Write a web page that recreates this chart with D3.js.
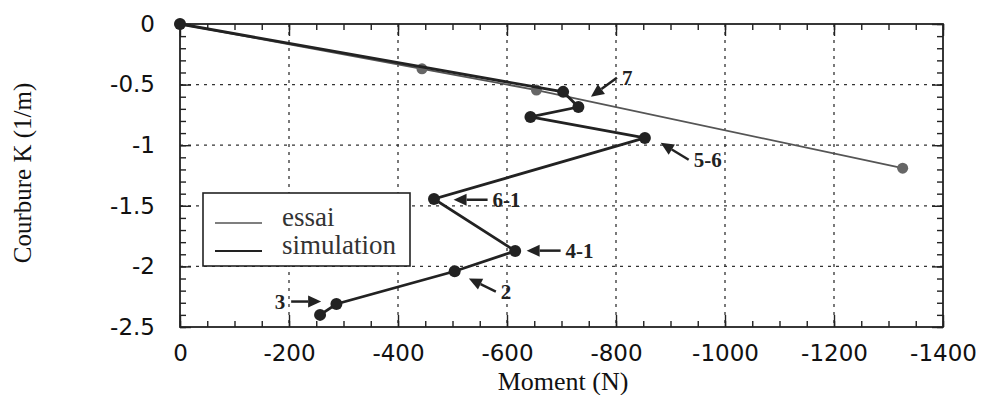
<!DOCTYPE html>
<meta charset="utf-8">
<script src="https://d3js.org/d3.v7.min.js"></script>
<style>
  body { margin: 0; background: #fff; }
</style>
<div id="chart"></div>
<script>
// data
var essaiM = [0, -444, -654, -1326];
var essaiK = [0, -0.37, -0.545, -1.19];
var simM = [0, -703, -731, -643, -853, -466, -615, -504, -287, -257];
var simK = [0, -0.56, -0.685, -0.767, -0.94, -1.444, -1.873, -2.04, -2.31, -2.40];

// annotations: label and arrow head (data coords), tail offset in px
var annLabels = ["7", "5-6", "6-1", "4-1", "2", "3"];
var annM = [-754, -882, -502, -636, -530, -259];
var annK = [-0.60, -0.98, -1.45, -1.87, -2.10, -2.29];
var annDx = [26, 28, 34, 34, 27, -30];
var annDy = [-19, 17, 0, 0, 13, 0];

var xTicks = [0, -200, -400, -600, -800, -1000, -1200, -1400];
var yTicks = [0, -0.5, -1, -1.5, -2, -2.5];
var legendLabels = ["essai", "simulation"];

var W = 981, H = 395;
var margin = {top: 24, right: 38, bottom: 68, left: 180};
var serif = "'Liberation Serif', 'Times New Roman', serif";

var svg = d3.select("#chart").append("svg")
  .attr("width", W).attr("height", H);

var x = d3.scaleLinear().domain([0, -1400]).range([margin.left, W - margin.right]);
var y = d3.scaleLinear().domain([0, -2.5]).range([margin.top, H - margin.bottom]);

var fmt = function(d) { return String(d); };

// grid
var grid = svg.append("g")
  .attr("stroke", "#333").attr("stroke-width", 1.3).attr("stroke-dasharray", "3,5");
grid.selectAll(".gx").data(xTicks.slice(1, -1)).enter().append("line")
  .attr("x1", d => x(d)).attr("x2", d => x(d))
  .attr("y1", y(0)).attr("y2", y(-2.5));
grid.selectAll(".gy").data(yTicks.slice(1, -1)).enter().append("line")
  .attr("x1", x(0)).attr("x2", x(-1400))
  .attr("y1", d => y(d)).attr("y2", d => y(d));

// axes
var xMinor = d3.range(0, -1401, -50);
var yMinor = d3.range(0, 26).map(i => -i / 10);

function styleAxis(g) {
  g.select(".domain").remove();
  g.selectAll("line").attr("stroke", "#222").attr("stroke-width", 1.4);
  g.selectAll("text")
    .style("font-family", "'DejaVu Sans', sans-serif")
    .style("font-size", "23px").attr("fill", "#111");
}

svg.append("g").attr("transform", "translate(0," + y(-2.5) + ")")
  .call(d3.axisBottom(x).tickValues(xMinor).tickSizeInner(-6).tickSizeOuter(0).tickFormat(""))
  .call(styleAxis);
svg.append("g").attr("transform", "translate(0," + y(0) + ")")
  .call(d3.axisTop(x).tickValues(xMinor).tickSizeInner(-6).tickSizeOuter(0).tickFormat(""))
  .call(styleAxis);
svg.append("g").attr("transform", "translate(" + x(0) + ",0)")
  .call(d3.axisLeft(y).tickValues(yMinor).tickSizeInner(-6).tickSizeOuter(0).tickFormat(""))
  .call(styleAxis);
svg.append("g").attr("transform", "translate(" + x(-1400) + ",0)")
  .call(d3.axisRight(y).tickValues(yMinor).tickSizeInner(-6).tickSizeOuter(0).tickFormat(""))
  .call(styleAxis);

svg.append("g").attr("transform", "translate(0," + y(-2.5) + ")")
  .call(d3.axisBottom(x).tickValues(xTicks).tickSizeInner(-12).tickSizeOuter(0).tickPadding(18).tickFormat(fmt))
  .call(styleAxis);
svg.append("g").attr("transform", "translate(0," + y(0) + ")")
  .call(d3.axisTop(x).tickValues(xTicks).tickSizeInner(-12).tickSizeOuter(0).tickFormat(""))
  .call(styleAxis);
svg.append("g").attr("transform", "translate(" + x(0) + ",0)")
  .call(d3.axisLeft(y).tickValues(yTicks).tickSizeInner(-11).tickSizeOuter(0).tickPadding(25).tickFormat(fmt))
  .call(styleAxis);
svg.append("g").attr("transform", "translate(" + x(-1400) + ",0)")
  .call(d3.axisRight(y).tickValues(yTicks).tickSizeInner(-11).tickSizeOuter(0).tickFormat(""))
  .call(styleAxis);

// frame
svg.append("rect")
  .attr("x", x(0)).attr("y", y(0))
  .attr("width", x(-1400) - x(0)).attr("height", y(-2.5) - y(0))
  .attr("fill", "none").attr("stroke", "#222").attr("stroke-width", 1.8);

// axis titles
svg.append("text")
  .attr("x", 563).attr("y", 390)
  .attr("text-anchor", "middle")
  .style("font-family", serif).style("font-size", "26px")
  .attr("fill", "#111")
  .text("Moment (N)");
svg.append("text")
  .attr("transform", "translate(31,173) rotate(-90)")
  .attr("text-anchor", "middle")
  .style("font-family", serif).style("font-size", "25px")
  .attr("fill", "#111")
  .text("Courbure K (1/m)");

// legend
var leg = svg.append("g");
leg.append("rect")
  .attr("x", 203).attr("y", 193).attr("width", 207).attr("height", 73)
  .attr("fill", "#fff").attr("stroke", "#222").attr("stroke-width", 1.6);
var legColors = ["#555", "#222"], legWidths = [1.6, 2.2];
legendLabels.forEach(function(lab, i) {
  var yy = 223 + i * 28;
  leg.append("line").attr("x1", 215).attr("x2", 262).attr("y1", yy).attr("y2", yy)
    .attr("stroke", legColors[i]).attr("stroke-width", legWidths[i]);
  leg.append("text").attr("x", 282).attr("y", yy + 3)
    .style("font-family", serif).style("font-size", "27px")
    .attr("fill", "#333")
    .text(lab);
});

// lines
var line = d3.line().x(d => x(d[0])).y(d => y(d[1]));
var essai = essaiM.map((m, i) => [m, essaiK[i]]);
var sim = simM.map((m, i) => [m, simK[i]]);

svg.append("path").datum(essai)
  .attr("fill", "none").attr("stroke", "#555").attr("stroke-width", 1.8)
  .attr("d", line);
svg.selectAll(".pe").data(essai).enter().append("circle")
  .attr("cx", d => x(d[0])).attr("cy", d => y(d[1])).attr("r", 5.5)
  .attr("fill", "#666");

svg.append("path").datum(sim)
  .attr("fill", "none").attr("stroke", "#222").attr("stroke-width", 2.8)
  .attr("d", line);
svg.selectAll(".ps").data(sim).enter().append("circle")
  .attr("cx", d => x(d[0])).attr("cy", d => y(d[1])).attr("r", 6)
  .attr("fill", "#222");

// annotations
annLabels.forEach(function(lab, i) {
  var hx = x(annM[i]), hy = y(annK[i]);
  var tx = hx + annDx[i], ty = hy + annDy[i];
  var len = Math.hypot(annDx[i], annDy[i]);
  var ux = annDx[i] / len, uy = annDy[i] / len;
  var bx = hx + ux * 13, by = hy + uy * 13;
  svg.append("line").attr("x1", bx).attr("y1", by).attr("x2", tx).attr("y2", ty)
    .attr("stroke", "#222").attr("stroke-width", 2.5);
  svg.append("path")
    .attr("d", "M" + hx + "," + hy +
      "L" + (bx - uy * 6) + "," + (by + ux * 6) +
      "L" + (bx + uy * 6) + "," + (by - ux * 6) + "Z")
    .attr("fill", "#222");
  var right = annDx[i] > 0;
  svg.append("text")
    .attr("x", tx + (right ? 5 : -6))
    .attr("y", ty + 7)
    .attr("text-anchor", right ? "start" : "end")
    .style("font-family", serif).style("font-weight", "bold")
    .style("font-size", "21px").attr("fill", "#222")
    .text(lab);
});
</script>
